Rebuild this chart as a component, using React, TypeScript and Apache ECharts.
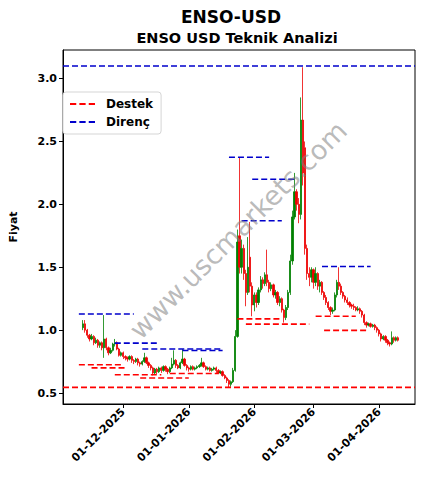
import React, { useEffect, useRef } from 'react';
import * as echarts from 'echarts';

const DAY = 86400000;
const startDate = '2025-11-12';
const xMinDate = '2025-11-02T12:00:00Z';
const xMaxDate = '2026-04-18T00:00:00Z';

// [open, close, low, high] per day from startDate
const ohlc: number[][] = [
  [1.02, 1.05, 1.0, 1.08], [1.05, 1.0, 0.98, 1.08], [1.0, 0.96, 0.94, 1.01], [0.96, 0.93, 0.91, 0.97],
  [0.93, 0.95, 0.92, 0.97], [0.95, 0.9, 0.88, 0.96], [0.9, 0.92, 0.89, 0.94], [0.92, 0.88, 0.86, 0.93],
  [0.88, 0.9, 0.86, 0.91], [0.9, 0.86, 0.84, 0.91], [0.86, 0.93, 0.78, 1.12], [0.93, 0.86, 0.84, 0.94],
  [0.86, 0.82, 0.8, 0.87], [0.82, 0.84, 0.81, 0.86], [0.84, 0.89, 0.83, 0.9], [0.89, 0.9, 0.87, 0.93],
  [0.9, 0.85, 0.84, 0.91], [0.85, 0.8, 0.79, 0.86], [0.8, 0.82, 0.79, 0.83], [0.82, 0.79, 0.77, 0.83],
  [0.79, 0.78, 0.76, 0.8], [0.78, 0.77, 0.75, 0.79], [0.77, 0.79, 0.76, 0.8], [0.79, 0.76, 0.74, 0.8],
  [0.76, 0.75, 0.73, 0.77], [0.75, 0.77, 0.74, 0.78], [0.77, 0.74, 0.72, 0.78], [0.74, 0.73, 0.71, 0.75],
  [0.73, 0.75, 0.72, 0.76], [0.75, 0.78, 0.74, 0.82], [0.78, 0.74, 0.73, 0.79], [0.74, 0.72, 0.7, 0.75],
  [0.72, 0.7, 0.68, 0.73], [0.7, 0.66, 0.64, 0.71], [0.66, 0.69, 0.65, 0.7], [0.69, 0.67, 0.65, 0.7],
  [0.67, 0.7, 0.66, 0.71], [0.7, 0.68, 0.66, 0.71], [0.68, 0.71, 0.67, 0.72], [0.71, 0.69, 0.67, 0.72],
  [0.69, 0.67, 0.65, 0.7], [0.67, 0.7, 0.66, 0.71], [0.7, 0.73, 0.69, 0.78], [0.73, 0.76, 0.72, 0.84],
  [0.76, 0.72, 0.7, 0.77], [0.72, 0.7, 0.69, 0.73], [0.7, 0.74, 0.69, 0.75], [0.74, 0.77, 0.73, 0.85],
  [0.77, 0.72, 0.71, 0.78], [0.72, 0.7, 0.68, 0.73], [0.7, 0.69, 0.67, 0.71], [0.69, 0.71, 0.68, 0.72],
  [0.71, 0.69, 0.68, 0.72], [0.69, 0.7, 0.68, 0.71], [0.7, 0.71, 0.69, 0.72], [0.71, 0.72, 0.7, 0.73],
  [0.72, 0.74, 0.71, 0.78], [0.74, 0.71, 0.7, 0.75], [0.71, 0.69, 0.68, 0.72], [0.69, 0.7, 0.68, 0.71],
  [0.7, 0.68, 0.67, 0.71], [0.68, 0.69, 0.67, 0.7], [0.69, 0.7, 0.68, 0.71], [0.7, 0.68, 0.66, 0.71],
  [0.68, 0.66, 0.65, 0.69], [0.66, 0.67, 0.65, 0.68], [0.67, 0.64, 0.63, 0.68], [0.64, 0.62, 0.61, 0.65],
  [0.62, 0.6, 0.58, 0.63], [0.6, 0.57, 0.54, 0.61], [0.57, 0.59, 0.55, 0.6], [0.59, 0.68, 0.58, 0.7],
  [0.68, 0.95, 0.67, 1.0], [0.95, 1.7, 0.94, 1.8], [1.75, 1.5, 1.45, 2.37], [1.5, 1.65, 1.45, 1.72],
  [1.65, 1.45, 1.4, 1.68], [1.45, 1.3, 1.19, 1.48], [1.3, 1.5, 1.28, 1.74], [1.58, 1.35, 1.3, 1.86],
  [1.35, 1.2, 1.11, 1.38], [1.2, 1.28, 1.15, 1.3], [1.28, 1.22, 1.18, 1.3], [1.22, 1.32, 1.2, 1.34],
  [1.32, 1.4, 1.3, 1.43], [1.4, 1.37, 1.33, 1.42], [1.37, 1.44, 1.35, 1.46], [1.44, 1.38, 1.35, 1.64],
  [1.38, 1.33, 1.3, 1.4], [1.33, 1.36, 1.31, 1.38], [1.36, 1.28, 1.26, 1.37], [1.28, 1.3, 1.25, 1.32],
  [1.3, 1.22, 1.2, 1.31], [1.22, 1.25, 1.19, 1.27], [1.25, 1.16, 1.14, 1.26], [1.16, 1.1, 1.06, 1.17],
  [1.1, 1.18, 1.08, 1.2], [1.18, 1.3, 1.16, 1.32], [1.3, 1.55, 1.28, 1.6], [1.55, 1.9, 1.52, 1.95],
  [1.9, 2.1, 1.88, 2.25], [2.1, 2.0, 1.95, 2.12], [2.0, 1.92, 1.85, 2.05], [1.92, 2.67, 1.88, 2.85],
  [2.67, 2.25, 2.15, 3.09], [2.45, 1.65, 1.6, 2.5], [1.65, 1.45, 1.4, 1.68], [1.45, 1.42, 1.35, 1.5],
  [1.42, 1.48, 1.38, 1.5], [1.48, 1.38, 1.33, 1.49], [1.38, 1.45, 1.35, 1.5], [1.45, 1.35, 1.32, 1.46],
  [1.35, 1.38, 1.3, 1.4], [1.38, 1.3, 1.28, 1.39], [1.3, 1.26, 1.24, 1.31], [1.26, 1.22, 1.2, 1.28],
  [1.22, 1.18, 1.16, 1.23], [1.18, 1.15, 1.12, 1.19], [1.15, 1.16, 1.13, 1.18], [1.16, 1.28, 1.15, 1.3],
  [1.28, 1.38, 1.26, 1.4], [1.38, 1.35, 1.32, 1.5], [1.35, 1.3, 1.28, 1.37], [1.3, 1.27, 1.25, 1.31],
  [1.27, 1.24, 1.22, 1.28], [1.24, 1.22, 1.2, 1.26], [1.22, 1.2, 1.18, 1.23], [1.2, 1.19, 1.17, 1.21],
  [1.19, 1.18, 1.16, 1.21], [1.18, 1.16, 1.15, 1.19], [1.16, 1.17, 1.15, 1.19], [1.17, 1.15, 1.13, 1.18],
  [1.15, 1.12, 1.1, 1.16], [1.12, 1.06, 1.04, 1.13], [1.06, 1.04, 1.02, 1.07], [1.04, 1.05, 1.03, 1.06],
  [1.05, 1.03, 1.02, 1.06], [1.03, 1.04, 1.02, 1.05], [1.04, 1.02, 1.0, 1.05], [1.02, 1.0, 0.98, 1.03],
  [1.0, 0.97, 0.95, 1.01], [0.97, 0.93, 0.91, 0.98], [0.93, 0.95, 0.92, 0.96], [0.95, 0.92, 0.9, 0.96],
  [0.92, 0.9, 0.88, 0.93], [0.9, 0.89, 0.87, 0.91], [0.89, 0.94, 0.88, 0.99], [0.94, 0.92, 0.9, 0.95],
  [0.92, 0.94, 0.91, 0.95], [0.94, 0.92, 0.91, 0.95],
];

const xTickDates = ['2025-12-01', '2026-01-01', '2026-02-01', '2026-03-01', '2026-04-01'];
const yTicks = [0.5, 1.0, 1.5, 2.0, 2.5, 3.0];

// [price, from, to]
const supportLevels: [number, string, string][] = [
  [0.545, xMinDate, xMaxDate],
  [0.725, '2025-11-10', '2025-11-30'],
  [0.7, '2025-11-16', '2025-12-02'],
  [0.645, '2025-11-27', '2025-12-19'],
  [0.62, '2025-12-09', '2026-01-01'],
  [0.655, '2025-12-23', '2026-01-15'],
  [1.09, '2026-01-24', '2026-02-14'],
  [1.048, '2026-01-28', '2026-02-27'],
  [1.11, '2026-03-02', '2026-03-21'],
  [0.998, '2026-03-06', '2026-03-26'],
];
const resistanceLevels: [number, string, string][] = [
  [3.1, xMinDate, xMaxDate],
  [1.128, '2025-11-10', '2025-12-06'],
  [0.897, '2025-11-27', '2025-12-18'],
  [0.85, '2025-12-10', '2026-01-17'],
  [0.838, '2025-12-29', '2026-01-17'],
  [2.375, '2026-01-20', '2026-02-08'],
  [2.2, '2026-01-31', '2026-02-20'],
  [1.87, '2026-01-26', '2026-02-14'],
  [1.506, '2026-03-05', '2026-03-28'],
];

const ts = (s: string) => Date.parse(s.length > 10 ? s : s + 'T00:00:00Z');
const pad = (n: number) => (n < 10 ? '0' + n : '' + n);
const FONT = 'DejaVu Sans';
const DASH_ICON = 'path://M0 0H6V2H0Z M9 0H15V2H9Z M18 0H24V2H18Z';

export default function App() {
  const ref = useRef<HTMLDivElement>(null);
  useEffect(() => {
    document.body.style.margin = '0';
    if (!ref.current) return;
    const chart = echarts.init(ref.current, undefined, { renderer: 'svg' });
    const t0 = ts(startDate);
    const candles = ohlc.map((d, i) => [t0 + i * DAY, d[0], d[1], d[2], d[3]]);
    const levelSeries = (levels: [number, string, string][], name: string, color: string) =>
      levels.map((l) => ({
        type: 'line',
        name,
        data: [[ts(l[1]), l[0]], [ts(l[2]), l[0]]],
        symbol: 'none',
        silent: true,
        lineStyle: { color, width: 1.6, type: [6, 3] },
        itemStyle: { color },
        z: 3,
      }));
    chart.setOption({
      animation: false,
      textStyle: { fontFamily: FONT },
      grid: { left: 60, right: 9, top: 50, bottom: 85, show: true, borderColor: '#000', borderWidth: 1 },
      legend: {
        data: [
          { name: 'Destek', icon: DASH_ICON },
          { name: 'Direnç', icon: DASH_ICON },
        ],
        orient: 'vertical',
        left: 63,
        top: 92,
        itemWidth: 25,
        itemHeight: 12,
        itemGap: 6,
        padding: [6, 8, 6, 7],
        backgroundColor: '#fff',
        borderColor: '#d5d5d5',
        borderWidth: 1,
        borderRadius: 3,
        textStyle: { fontFamily: FONT, fontWeight: 'bold', fontSize: 12, color: '#000', padding: [0, 0, 0, 6] },
      },
      xAxis: {
        type: 'value',
        min: ts(xMinDate),
        max: ts(xMaxDate),
        scale: true,
        splitLine: { show: false },
        axisLine: { show: true, lineStyle: { color: '#000' } },
        axisTick: { show: true, length: 4, customValues: xTickDates.map(ts), lineStyle: { color: '#000' } },
        axisLabel: {
          customValues: xTickDates.map(ts),
          rotate: 45,
          fontFamily: FONT,
          fontWeight: 'bold',
          fontSize: 11,
          color: '#000',
          margin: 6,
          formatter: (v: number) => {
            const d = new Date(v);
            return pad(d.getUTCDate()) + '-' + pad(d.getUTCMonth() + 1) + '-' + d.getUTCFullYear();
          },
        },
      },
      yAxis: {
        type: 'value',
        min: 0.413,
        max: 3.227,
        scale: true,
        name: 'Fiyat',
        nameLocation: 'middle',
        nameGap: 44,
        nameTextStyle: { fontFamily: FONT, fontWeight: 'bold', fontSize: 11, color: '#000' },
        splitLine: { show: false },
        axisLine: { show: true, lineStyle: { color: '#000' } },
        axisTick: { show: true, length: 4, customValues: yTicks, lineStyle: { color: '#000' } },
        axisLabel: {
          customValues: yTicks,
          fontFamily: FONT,
          fontWeight: 'bold',
          fontSize: 11,
          color: '#000',
          margin: 6,
          formatter: (v: number) => v.toFixed(1),
        },
      },
      series: [
        {
          type: 'candlestick',
          name: 'ENSO',
          data: candles,
          barWidth: 1.8,
          itemStyle: {
            color: '#008000',
            color0: '#ee0000',
            borderColor: '#008000',
            borderColor0: '#ee0000',
            borderWidth: 0.8,
          },
          z: 2,
        },
        ...levelSeries(supportLevels, 'Destek', '#ff0000'),
        ...levelSeries(resistanceLevels, 'Direnç', '#0000cc'),
      ],
      graphic: [
        {
          type: 'text',
          x: 231,
          y: 17,
          style: { text: 'ENSO-USD', font: 'bold 17px "DejaVu Sans"', fill: '#000', textAlign: 'center', textVerticalAlign: 'middle' },
        },
        {
          type: 'text',
          x: 237,
          y: 38,
          style: { text: 'ENSO USD Teknik Analizi', font: 'bold 14.5px "DejaVu Sans"', fill: '#000', textAlign: 'center', textVerticalAlign: 'middle' },
        },
        {
          type: 'text',
          x: 238,
          y: 230,
          rotation: Math.PI / 4,
          z: 100,
          style: { text: 'www.uscmarkets.com', font: '27px "DejaVu Sans"', fill: 'rgba(128,128,128,0.55)', textAlign: 'center', textVerticalAlign: 'middle' },
        },
      ],
    });
    return () => chart.dispose();
  }, []);
  return <div ref={ref} style={{ width: 424, height: 489 }} />;
}
